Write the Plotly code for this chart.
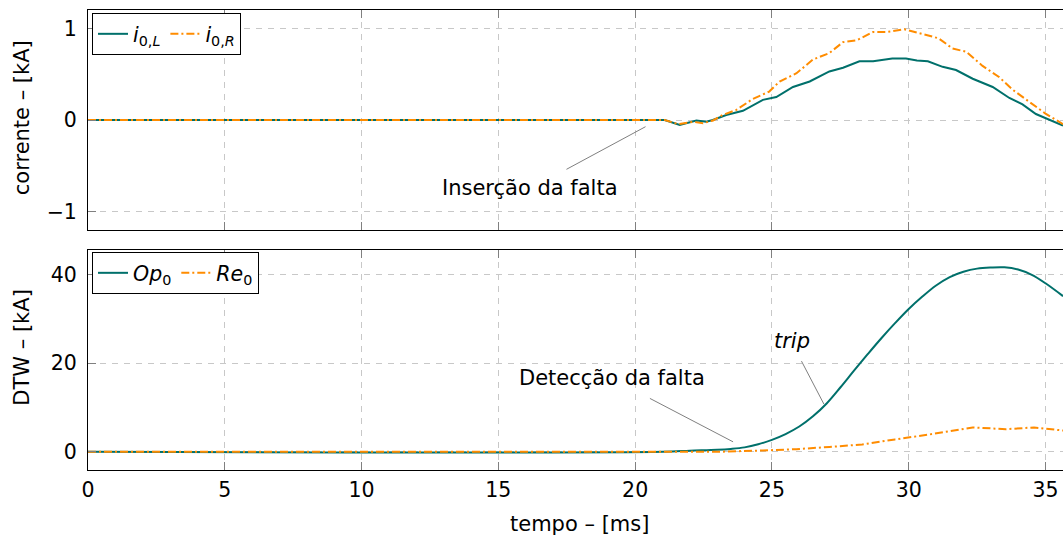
import plotly.graph_objects as go

# --- zero-sequence currents [kA] ---
t_i0L = [0, 21.08, 21.63, 22.0, 22.24, 22.6, 22.84, 23.33, 23.94, 24.67, 25.16, 25.77,
         26.38, 27.1, 27.6, 28.2, 28.7, 29.4, 29.9, 30.3, 30.7, 31.24, 31.73, 32.34,
         33.07, 33.68, 34.16, 34.65, 35.0, 35.64]
i0L = [0, 0, -0.055, -0.02, -0.005, -0.02, 0, 0.055, 0.1, 0.22, 0.25, 0.36,
       0.42, 0.53, 0.57, 0.64, 0.64, 0.67, 0.67, 0.65, 0.64, 0.58, 0.545, 0.45,
       0.36, 0.24, 0.17, 0.065, 0.02, -0.06]

t_i0R = [0, 21.08, 21.57, 22.12, 22.48, 22.85, 23.2, 23.7, 24.3, 24.9, 25.28, 25.9,
         26.5, 27.1, 27.6, 28.1, 28.7, 29.2, 29.84, 30.27, 30.75, 31.1, 31.6, 32.1,
         32.7, 33.3, 33.8, 34.4, 35.0, 35.64]
i0R = [0, 0, -0.045, -0.02, -0.035, -0.005, 0.055, 0.11, 0.23, 0.31, 0.42, 0.51,
       0.66, 0.73, 0.85, 0.87, 0.96, 0.96, 0.99, 0.96, 0.92, 0.89, 0.78, 0.745,
       0.59, 0.47, 0.33, 0.2, 0.07, -0.045]

# --- DTW operating / restraint quantities [kA] ---
t_op = [0, 21.0, 22.0, 23.0, 23.5, 24.0, 24.5, 25.0, 25.5, 26.0, 26.5, 27.0, 27.5,
        28.0, 28.5, 29.0, 29.5, 30.0, 30.5, 31.0, 31.5, 32.0, 32.5, 33.0, 33.5,
        34.0, 34.5, 35.0, 35.64]
op0 = [0, 0, 0.25, 0.45, 0.65, 1.0, 1.7, 2.7, 4.0, 5.7, 8.0, 10.9, 14.5,
       18.3, 22.0, 25.6, 29.0, 32.2, 35.0, 37.5, 39.4, 40.6, 41.3, 41.55, 41.6,
       41.1, 39.9, 38.0, 35.1]

t_re = [0, 23.0, 24.67, 25.9, 27.1, 28.3, 29.5, 30.75, 32.34, 33.55, 34.58, 35.64]
re0 = [0, 0, 0.3, 0.6, 1.1, 1.65, 2.8, 3.9, 5.5, 5.1, 5.5, 4.8]

x_ticks = [0, 5, 10, 15, 20, 25, 30, 35]
y1_ticks = [-1, 0, 1]
y2_ticks = [0, 20, 40]

TEAL = "#00706b"
ORANGE = "#ff8c00"
FONT = "DejaVu Sans"
FS = 21
FS_TICK = 20.5
DASHDOT = "8px,3px,2px,3px"

W, H = 1063, 535
ML, MR, MT, MB = 88, 0, 10, 65
PW, PH = W - ML - MR, H - MT - MB


def px_x(px):
    return (px - ML) / PW


def px_y(py):
    return (H - MB - py) / PH


fig = go.Figure()

fig.add_trace(go.Scatter(x=t_i0L, y=i0L, mode="lines", name="<i>i</i><sub>0,<i>L</i></sub>",
                         line=dict(color=TEAL, width=2), xaxis="x", yaxis="y", legend="legend"))
fig.add_trace(go.Scatter(x=t_i0R, y=i0R, mode="lines", name="<i>i</i><sub>0,<i>R</i></sub>",
                         line=dict(color=ORANGE, width=2, dash=DASHDOT), xaxis="x", yaxis="y",
                         legend="legend"))
fig.add_trace(go.Scatter(x=t_op, y=op0, mode="lines", name="<i>Op</i><sub>0</sub>",
                         line=dict(color=TEAL, width=2, shape="spline", smoothing=1.0),
                         xaxis="x2", yaxis="y2", legend="legend2"))
fig.add_trace(go.Scatter(x=t_re, y=re0, mode="lines", name="<i>Re</i><sub>0</sub>",
                         line=dict(color=ORANGE, width=2, dash=DASHDOT),
                         xaxis="x2", yaxis="y2", legend="legend2"))

axis_common = dict(
    showline=True, linecolor="black", linewidth=1,
    ticks="inside", ticklen=8, tickcolor="#808080", tickwidth=1,
    showgrid=True, gridcolor="#c8c8c8", gridwidth=1, griddash="6px,6px",
    zeroline=False,
    tickfont=dict(family=FONT, size=FS_TICK, color="black"),
)

top_dom = [px_y(230), 1.0]
bot_dom = [0.0, px_y(250)]

fig.update_layout(
    width=W, height=H,
    margin=dict(l=ML, r=MR, t=MT, b=MB),
    paper_bgcolor="white", plot_bgcolor="white",
    font=dict(family=FONT, size=FS, color="black"),
    xaxis=dict(axis_common, range=[0, 35.64], tickvals=x_ticks, showticklabels=False,
               anchor="y", mirror="ticks"),
    yaxis=dict(axis_common, range=[-1.2, 1.2], tickvals=y1_ticks,
               ticktext=["\u22121", "0", "1"], domain=top_dom, anchor="x",
               ticklabelstandoff=6),
    xaxis2=dict(axis_common, range=[0, 35.64], tickvals=x_ticks, anchor="y2",
                mirror="ticks", ticklabelstandoff=1),
    yaxis2=dict(axis_common, range=[-4.1, 45.5], tickvals=y2_ticks, domain=bot_dom,
                anchor="x2", ticklabelstandoff=6),
    legend=dict(x=px_x(92), y=px_y(13), xanchor="left", yanchor="top",
                orientation="h", bgcolor="white", bordercolor="black", borderwidth=1,
                font=dict(family=FONT, size=FS_TICK), itemwidth=30, tracegroupgap=0),
    legend2=dict(x=px_x(92), y=px_y(252), xanchor="left", yanchor="top",
                 orientation="h", bgcolor="white", bordercolor="black", borderwidth=1,
                 font=dict(family=FONT, size=FS_TICK), itemwidth=30, tracegroupgap=0),
    showlegend=True,
)

# leader lines for the event labels
leader = dict(type="line", line=dict(color="#808080", width=1))
fig.add_shape(leader, x0=17.49, y0=-0.538, x1=20.38, y1=-0.073, xref="x", yref="y")
fig.add_shape(leader, x0=20.54, y0=12.04, x1=23.58, y1=2.25, xref="x2", yref="y2")
fig.add_shape(leader, x0=26.08, y0=20.45, x1=26.9, y1=10.76, xref="x2", yref="y2")

note = dict(showarrow=False, xanchor="center", yanchor="middle",
            font=dict(family=FONT, size=FS))
fig.add_annotation(note, x=16.15, y=-0.74, xref="x", yref="y", text="Inserção da falta")
fig.add_annotation(note, x=19.17, y=16.6, xref="x2", yref="y2", text="Detecção da falta")
fig.add_annotation(note, x=25.72, y=25.0, xref="x2", yref="y2", text="<i>trip</i>")

# axis titles
title = dict(showarrow=False, xanchor="center", yanchor="middle", xref="paper",
             yref="paper", font=dict(family=FONT, size=FS))
fig.add_annotation(title, x=px_x(21.7), y=px_y(117.5), text="corrente – [kA]", textangle=-90)
fig.add_annotation(title, x=px_x(21.7), y=px_y(347), text="DTW – [kA]", textangle=-90)
fig.add_annotation(title, x=px_x(579), y=px_y(524), text="tempo – [ms]")

fig.write_html("out.html")
